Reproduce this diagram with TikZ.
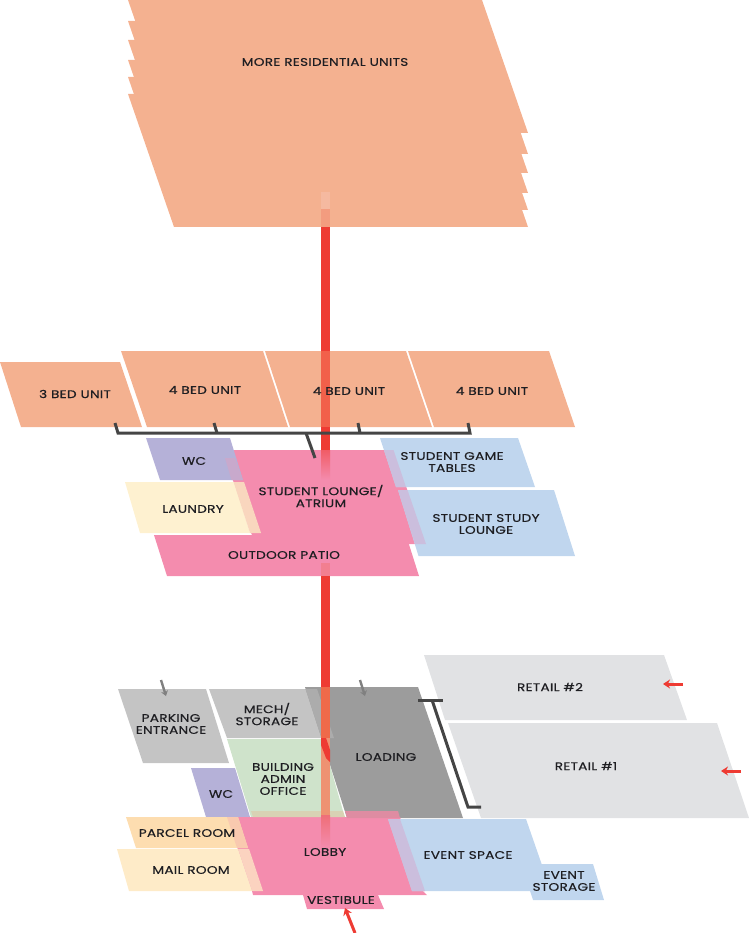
\documentclass[tikz,border=0pt]{standalone}
\usepackage{fontspec}
\setmainfont[FakeStretch=1.24,LetterSpace=2.5,FakeBold=0.5]{Poppins}
\usepackage{xcolor}
\usetikzlibrary{arrows.meta}
\definecolor{CUnit}{HTML}{F4B190}
\definecolor{CPink}{HTML}{F48CAE}
\definecolor{CBlue}{HTML}{C0D6EE}
\definecolor{CLila}{HTML}{B5B1D8}
\definecolor{CLaun}{HTML}{FEF1D0}
\definecolor{CMail}{HTML}{FEEBC8}
\definecolor{CParc}{HTML}{FDDDB0}
\definecolor{CGrey}{HTML}{C4C4C4}
\definecolor{CLoad}{HTML}{9C9C9C}
\definecolor{CGreen}{HTML}{CFE3CB}
\definecolor{CRetail}{HTML}{E1E2E4}
\definecolor{CRed}{HTML}{EE3B33}
\definecolor{CBar}{HTML}{454545}
\definecolor{CText}{HTML}{1E1E22}
\definecolor{MWc}{HTML}{C8A9CC}
\definecolor{MLaun}{HTML}{F9D6BE}
\definecolor{MBlue}{HTML}{CBBEDD}
\definecolor{MMech}{HTML}{ACACAC}
\definecolor{MGreen}{HTML}{D8D2B4}
\definecolor{MLoad}{HTML}{DE8CA2}
\definecolor{MParc}{HTML}{F9C9AF}
\definecolor{MMail}{HTML}{FBD3C0}
\definecolor{SA}{HTML}{F5B9A0}
\definecolor{SB}{HTML}{F39C7F}
\definecolor{SC}{HTML}{F2604A}
\definecolor{SD}{HTML}{F15C66}
\definecolor{SF}{HTML}{F27F90}
\definecolor{SG}{HTML}{EF6A4A}
\definecolor{SH}{HTML}{EE9272}
\definecolor{SI}{HTML}{EF6E78}
\tikzset{
  lbl/.style={text=CText, font=\fontsize{11}{12}\selectfont, align=center, inner sep=0pt},
  bar/.style={draw=CBar, line width=3pt},
  ent/.style={draw=CRed, line width=3pt, -{Stealth[length=7pt,width=9pt]}},
  svc/.style={draw=gray, line width=2.4pt, -{Stealth[length=5pt,width=7pt]}}
}

\begin{document}
\begin{tikzpicture}[x=1pt,y=-1pt]
  \useasboundingbox (0,0) rectangle (750,933);

  % upper floors
  \foreach \yy in {0,21,40,60,77,94}
    \fill[CUnit] (128,\yy) -- (482,\yy) -- (528,\yy+133) -- (174,\yy+133) -- cycle;
  \fill[CUnit] (0,362) -- (120,362) -- (142,427) -- (21,427) -- cycle;
  \fill[CUnit] (121,351) -- (263,351) -- (288,427) -- (147,427) -- cycle;
  \fill[CUnit] (265,351) -- (406,351) -- (432,427) -- (290,427) -- cycle;
  \fill[CUnit] (408,351) -- (549,351) -- (575,427) -- (434,427) -- cycle;

  % student floor
  \fill[CPink] (222.5,450) -- (393.5,450) -- (426,544) -- (255,544) -- cycle;
  \fill[CPink] (154,535) -- (406,535) -- (419,576) -- (167,576) -- cycle;
  \fill[CLila] (146,438) -- (230,438) -- (243,480) -- (160,480) -- cycle;
  \fill[CLaun] (125,482) -- (234,482) -- (250,533) -- (140,533) -- cycle;
  \fill[CBlue] (380,438) -- (518,438) -- (535,487) -- (396,487) -- cycle;
  \fill[CBlue] (398,490) -- (554,490) -- (575,556) -- (418.5,556) -- cycle;
  \fill[MWc] (225,458) -- (235,458) -- (243,480) -- (231.5,480) -- cycle;
  \fill[MLaun] (233.6,482) -- (244,482) -- (261,533) -- (250,533) -- cycle;
  \fill[MBlue] (384,450) -- (393.5,450) -- (406,487) -- (396,487) -- cycle;
  \fill[MBlue] (398,490) -- (407.5,490) -- (426,544) -- (415,544) -- cycle;

  % ground floor
  \fill[CGrey] (118,689) -- (206,689) -- (229,763) -- (143,763) -- cycle;
  \fill[CGrey] (209,689) -- (317,689) -- (334,738) -- (227,738) -- cycle;
  \fill[CGreen] (227,739) -- (321,739) -- (329,762) -- (343,811) -- (343,817) -- (251,817) -- cycle;
  \fill[CLoad] (305,687) -- (418,687) -- (463,818) -- (347,818) -- (321.5,738) -- cycle;
  \fill[MMech] (305.6,689) -- (317,689) -- (334,738) -- (321.5,738) -- cycle;
  \fill[CLila] (191,768) -- (235,768) -- (250,817) -- (206,817) -- cycle;
  \fill[CRetail] (424,655) -- (664,655) -- (687,720) -- (445,720) -- cycle;
  \fill[CRetail] (448,723) -- (717,723) -- (749,818) -- (481,818) -- cycle;
  \fill[CPink] (227,817) -- (400,817) -- (425,891) -- (252,891) -- cycle;
  \fill[CPink] (252,891) -- (423,891) -- (427,895) -- (253,895) -- cycle;
  \fill[CPink] (303,895) -- (378,895) -- (384,909) -- (307,909) -- cycle;
  \fill[MGreen] (251,811) -- (343,811) -- (345,817) -- (253,817) -- cycle;
  \fill[MLoad] (345,811) -- (398,811) -- (400,818) -- (347,818) -- cycle;
  \fill[CBlue] (388,819) -- (526,819) -- (551,891) -- (412,891) -- cycle;
  \fill[CBlue] (521,864) -- (593,864) -- (604,900) -- (533,900) -- cycle;
  \fill[MBlue] (388,819) -- (400,819) -- (425,891) -- (412,891) -- cycle;
  \fill[CParc] (126,817) -- (238,817) -- (248,848) -- (136,848) -- cycle;
  \fill[MParc] (227,817) -- (238,817) -- (248,848) -- (237,848) -- cycle;
  \fill[CMail] (117,849) -- (238,849) -- (252,891) -- (129,891) -- cycle;
  \fill[MMail] (238,849) -- (249,849) -- (263,891) -- (252,891) -- cycle;

  % vertical core
  \fill[SA] (321,192) rectangle (330,209);
  \fill[SB] (321,209) rectangle (330,227);
  \fill[CRed] (321,227) rectangle (330,351);
  \fill[SC] (321,351) rectangle (330,427);
  \fill[CRed] (321,427) rectangle (330,450);
  \shade[top color=SD, bottom color=CPink] (321,450) rectangle (330,480);
  \fill[SF] (321,563) rectangle (330,576);
  \fill[CRed] (321,576) rectangle (330,687);
  \fill[SG] (321,687) rectangle (330,738);
  \fill[SH] (321,738) rectangle (330,815);
  \fill[CRed] (321,738) -- (326,738) -- (330,750) -- (330,762) -- (326,758) -- (321,745) -- cycle;
  \shade[top color=SI, bottom color=CPink] (321,815) rectangle (330,848);

  % brackets
  \coordinate (u1) at (115,423);
  \coordinate (u2) at (214,423);
  \coordinate (u3) at (358,423);
  \coordinate (u4) at (468,423);
  \coordinate (b1) at (118,433);
  \coordinate (b2) at (217,433);
  \coordinate (b3) at (360,433);
  \coordinate (b4) at (470,433);
  \coordinate (tapA) at (306,433);
  \coordinate (tapB) at (315,458);
  \draw[bar] (u1) -- (b1) -- (b4) -- (u4);
  \draw[bar] (u2) -- (b2);
  \draw[bar] (u3) -- (b3);
  \draw[bar] (tapA) -- (tapB);
  \coordinate (r1) at (418,700);
  \coordinate (r2) at (443,700);
  \coordinate (r3) at (432,700);
  \coordinate (r4) at (468,807);
  \coordinate (r5) at (481,807);
  \draw[bar] (r1) -- (r2);
  \draw[bar] (r3) -- (r4) -- (r5);

  % entries
  \coordinate (eA) at (355,933);
  \coordinate (eB) at (345,908);
  \draw[ent] (eA) -- (eB);
  \coordinate (eC) at (683,684);
  \coordinate (eD) at (663,684);
  \draw[ent] (eC) -- (eD);
  \coordinate (eE) at (741,771);
  \coordinate (eF) at (721,771);
  \draw[ent] (eE) -- (eF);
  \coordinate (sA) at (161,680);
  \coordinate (sB) at (166,696);
  \draw[svc] (sA) -- (sB);
  \coordinate (sC) at (360,680);
  \coordinate (sD) at (365,696);
  \draw[svc] (sC) -- (sD);

  % labels
  \node[lbl] (more) at (325,62) {MORE RESIDENTIAL UNITS};
  \node[lbl] (bedA) at (75,394) {3 BED UNIT};
  \node[lbl] (bedB) at (205,390) {4 BED UNIT};
  \node[lbl] (bedC) at (349,391) {4 BED UNIT};
  \node[lbl] (bedD) at (492,391) {4 BED UNIT};
  \node[lbl] (wcUp) at (194,461) {WC};
  \node[lbl] (laundry) at (193,509) {LAUNDRY};
  \node[lbl] (lounge) at (321,496) {STUDENT LOUNGE/\\ATRIUM};
  \node[lbl] (patio) at (284,555) {OUTDOOR PATIO};
  \node[lbl] (game) at (452,462) {STUDENT GAME\\TABLES};
  \node[lbl] (study) at (486,524) {STUDENT STUDY\\LOUNGE};
  \node[lbl] (parking) at (171,724) {PARKING\\ENTRANCE};
  \node[lbl] (mech) at (267,714) {MECH/\\STORAGE};
  \node[lbl] (admin) at (283,779) {BUILDING\\ADMIN\\OFFICE};
  \node[lbl] (loading) at (386,757) {LOADING};
  \node[lbl] (wcLow) at (221,794) {WC};
  \node[lbl] (parcel) at (187,833) {PARCEL ROOM};
  \node[lbl] (mail) at (191,870) {MAIL ROOM};
  \node[lbl] (lobby) at (325,852) {LOBBY};
  \node[lbl] (vest) at (341,900) {VESTIBULE};
  \node[lbl] (event) at (468,855) {EVENT SPACE};
  \node[lbl] (store) at (564,881) {EVENT\\STORAGE};
  \node[lbl] (retailB) at (550,687) {RETAIL \#2};
  \node[lbl] (retailA) at (586,766) {RETAIL \#1};
\end{tikzpicture}
\end{document}
